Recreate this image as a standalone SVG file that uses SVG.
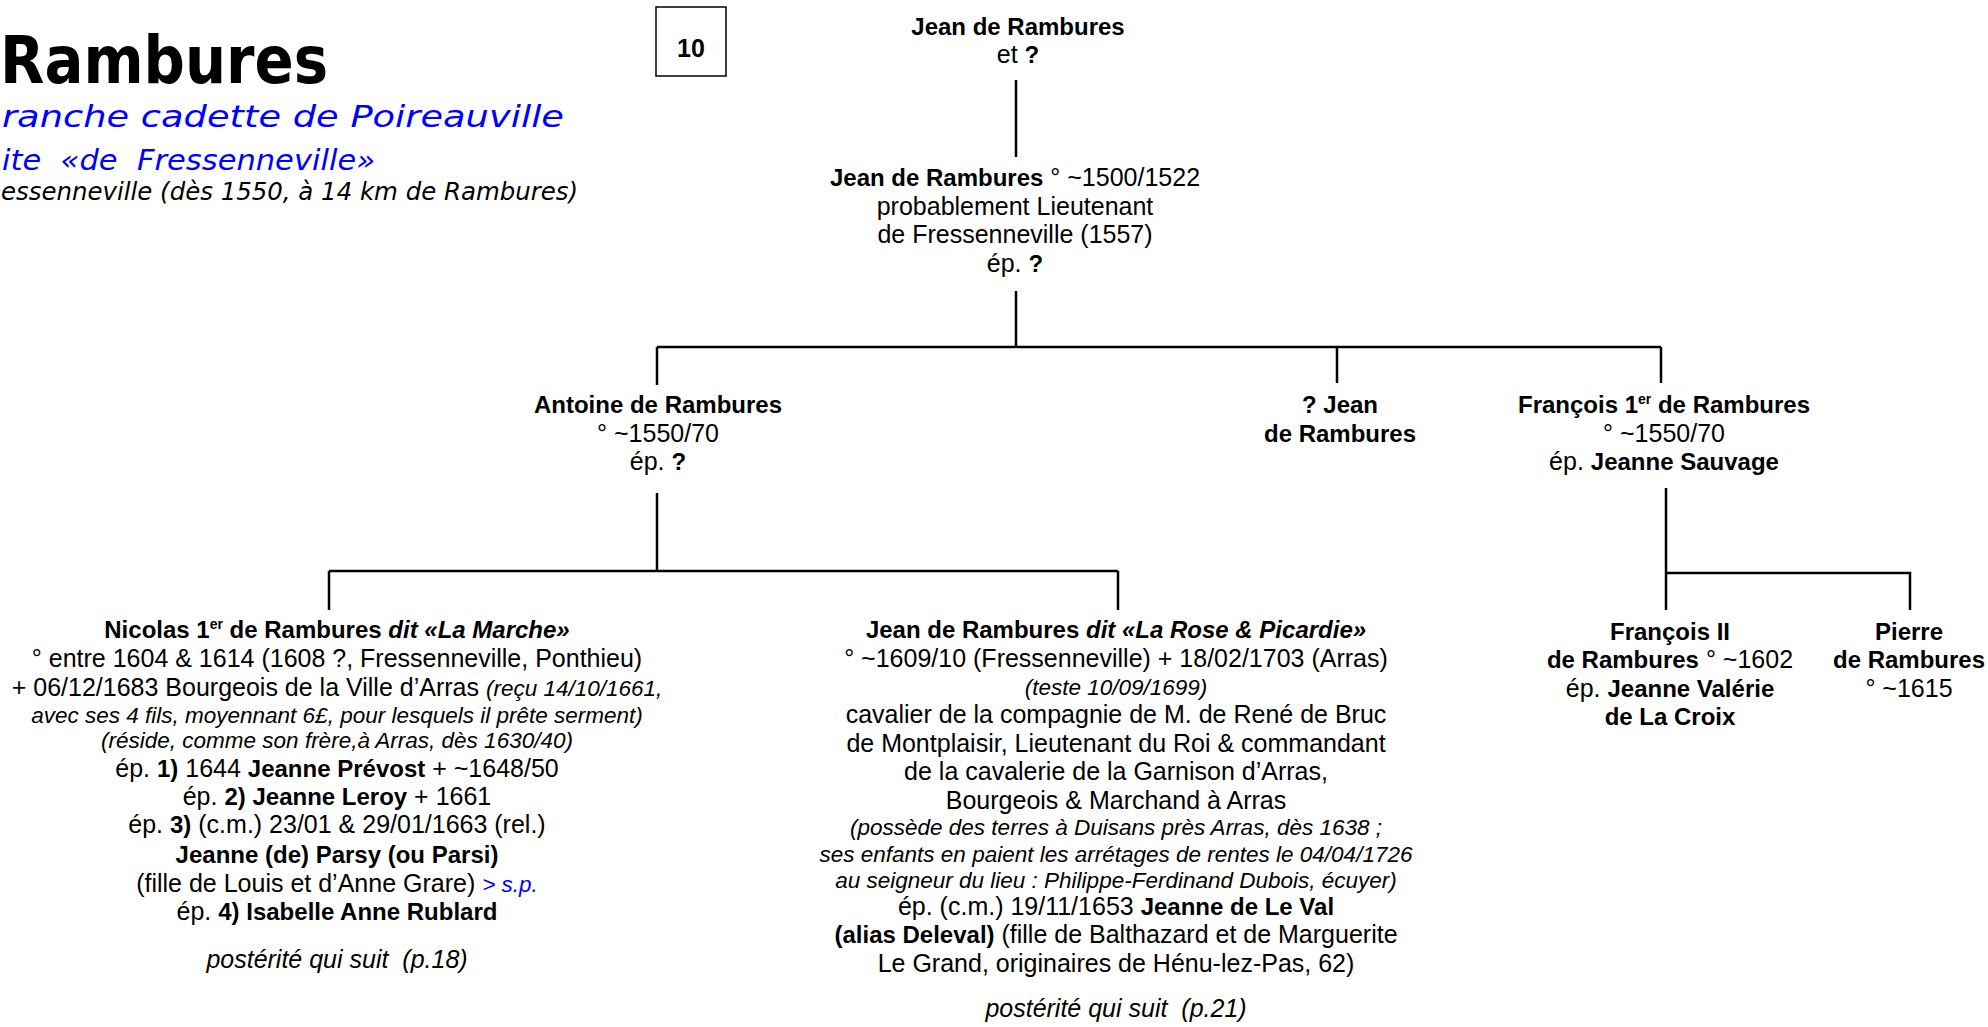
<svg xmlns="http://www.w3.org/2000/svg" width="1988" height="1027" viewBox="0 0 1988 1027">
<style>
text{font-family:"Liberation Sans",Arial,sans-serif;font-size:25px;fill:#000;text-anchor:middle}
.b{font-weight:bold;font-size:24px}
.i{font-style:italic;font-size:22.5px}
.bi{font-weight:bold;font-style:italic;font-size:24px}
.it{font-style:italic}
.sup{font-size:14px}
.blue{fill:#0000ff}
.hd{font-family:"DejaVu Sans",Verdana,sans-serif;text-anchor:start}
.conn{stroke:#000;stroke-width:2.5;fill:none}
</style>
<rect width="1988" height="1027" fill="#fff"/>
<g id="header">
<text class="hd" x="0" y="83" style="font-size:66px;font-weight:bold" textLength="328" lengthAdjust="spacingAndGlyphs">Rambures</text>
<text class="hd blue" x="2" y="127" style="font-size:31px;font-style:italic" textLength="562" lengthAdjust="spacingAndGlyphs">ranche cadette de Poireauville</text>
<text class="hd blue" x="2" y="170" style="font-size:29px;font-style:italic" textLength="373" lengthAdjust="spacingAndGlyphs">ite &#160;«de &#160;Fressenneville»</text>
<text class="hd" x="1" y="200" style="font-size:24px;font-style:italic" textLength="577" lengthAdjust="spacingAndGlyphs">essenneville (dès 1550, à 14 km de Rambures)</text>
</g>
<g id="pagebox">
<rect x="656" y="7" width="70" height="69" fill="none" stroke="#000" stroke-width="1.5"/>
<text class="b" x="691" y="57" style="font-size:25px">10</text>
</g>
<g id="connectors">
<path class="conn" d="M1016 80V157"/>
<path class="conn" d="M1016 291V347"/>
<path class="conn" d="M657 347H1661"/>
<path class="conn" d="M657 347V385M1337 347V383M1661 347V383"/>
<path class="conn" d="M657 493V571M329 571H1118M329 571V610M1118 571V610"/>
<path class="conn" d="M1666 488V610M1666 573H1910V610"/>
</g>
<g id="n-jean-pere">
<text x="1018" y="35" class="b">Jean de Rambures</text>
<text x="1018" y="63">et <tspan class="b">?</tspan></text>
</g>
<g id="n-jean">
<text x="1015" y="186"><tspan class="b">Jean de Rambures</tspan> ° ~1500/1522</text>
<text x="1015" y="215">probablement Lieutenant</text>
<text x="1015" y="243">de Fressenneville (1557)</text>
<text x="1015" y="272">ép. <tspan class="b">?</tspan></text>
</g>
<g id="n-antoine">
<text x="658" y="413" class="b">Antoine de Rambures</text>
<text x="658" y="442">° ~1550/70</text>
<text x="658" y="470">ép. <tspan class="b">?</tspan></text>
</g>
<g id="n-jean2">
<text x="1340" y="413" class="b">? Jean</text>
<text x="1340" y="442" class="b">de Rambures</text>
</g>
<g id="n-francois1">
<text x="1664" y="413" class="b">François 1<tspan class="sup" dy="-9">er</tspan><tspan dy="9"> de Rambures</tspan></text>
<text x="1664" y="442">° ~1550/70</text>
<text x="1664" y="470">ép. <tspan class="b">Jeanne Sauvage</tspan></text>
</g>
<g id="n-nicolas">
<text x="337" y="638" class="b">Nicolas 1<tspan class="sup" dy="-9">er</tspan><tspan dy="9"> de Rambures </tspan><tspan class="bi">dit «La Marche»</tspan></text>
<text x="337" y="667">° entre 1604 &amp; 1614 (1608 ?, Fressenneville, Ponthieu)</text>
<text x="337" y="696">+ 06/12/1683 Bourgeois de la Ville d’Arras <tspan class="i">(reçu 14/10/1661,</tspan></text>
<text x="337" y="723" class="i">avec ses 4 fils, moyennant 6£, pour lesquels il prête serment)</text>
<text x="337" y="748" class="i">(réside, comme son frère,à Arras, dès 1630/40)</text>
<text x="337" y="777">ép. <tspan class="b">1)</tspan> 1644 <tspan class="b">Jeanne Prévost</tspan> + ~1648/50</text>
<text x="337" y="805">ép. <tspan class="b">2) Jeanne Leroy</tspan> + 1661</text>
<text x="337" y="833">ép. <tspan class="b">3)</tspan> (c.m.) 23/01 &amp; 29/01/1663 (rel.)</text>
<text x="337" y="863" class="b">Jeanne (de) Parsy (ou Parsi)</text>
<text x="337" y="892">(fille de Louis et d’Anne Grare) <tspan class="i blue">&gt; s.p.</tspan></text>
<text x="337" y="920">ép. <tspan class="b">4) Isabelle Anne Rublard</tspan></text>
<text x="337" y="968" class="it">postérité qui suit &#160;(p.18)</text>
</g>
<g id="n-jean-larose">
<text x="1116" y="638" class="b">Jean de Rambures <tspan class="bi">dit «La Rose &amp; Picardie»</tspan></text>
<text x="1116" y="667">° ~1609/10 (Fressenneville) + 18/02/1703 (Arras)</text>
<text x="1116" y="695" class="i">(teste 10/09/1699)</text>
<text x="1116" y="723">cavalier de la compagnie de M. de René de Bruc</text>
<text x="1116" y="752">de Montplaisir, Lieutenant du Roi &amp; commandant</text>
<text x="1116" y="780">de la cavalerie de la Garnison d’Arras,</text>
<text x="1116" y="809">Bourgeois &amp; Marchand à Arras</text>
<text x="1116" y="835" class="i">(possède des terres à Duisans près Arras, dès 1638 ;</text>
<text x="1116" y="862" class="i">ses enfants en paient les arrétages de rentes le 04/04/1726</text>
<text x="1116" y="888" class="i">au seigneur du lieu : Philippe-Ferdinand Dubois, écuyer)</text>
<text x="1116" y="915">ép. (c.m.) 19/11/1653 <tspan class="b">Jeanne de Le Val</tspan></text>
<text x="1116" y="943"><tspan class="b">(alias Deleval)</tspan> (fille de Balthazard et de Marguerite</text>
<text x="1116" y="972">Le Grand, originaires de Hénu-lez-Pas, 62)</text>
<text x="1116" y="1017" class="it">postérité qui suit &#160;(p.21)</text>
</g>
<g id="n-francois2">
<text x="1670" y="640" class="b">François II</text>
<text x="1670" y="668"><tspan class="b">de Rambures</tspan> ° ~1602</text>
<text x="1670" y="697">ép. <tspan class="b">Jeanne Valérie</tspan></text>
<text x="1670" y="725" class="b">de La Croix</text>
</g>
<g id="n-pierre">
<text x="1909" y="640" class="b">Pierre</text>
<text x="1909" y="668" class="b">de Rambures</text>
<text x="1909" y="697">° ~1615</text>
</g>
</svg>
